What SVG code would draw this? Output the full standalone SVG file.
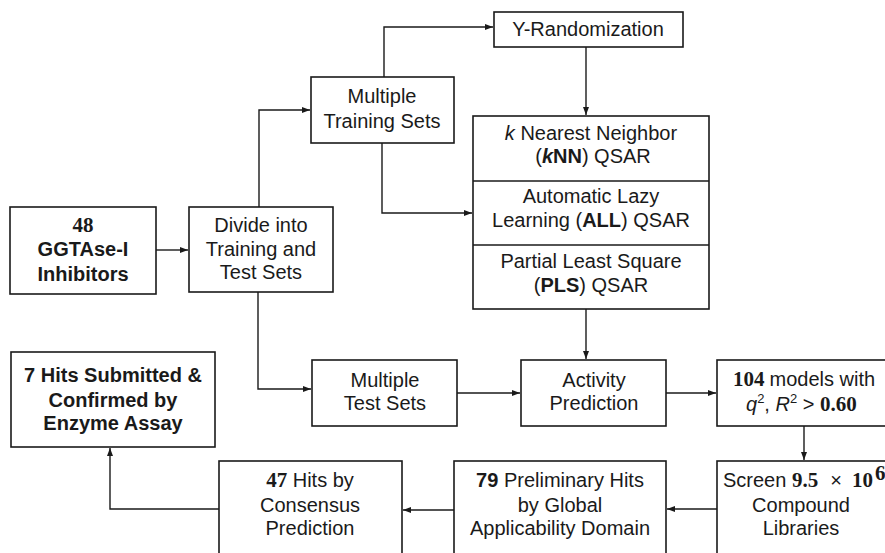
<svg xmlns="http://www.w3.org/2000/svg" width="885" height="553" viewBox="0 0 885 553">
<defs>
<marker id="arr" markerUnits="userSpaceOnUse" markerWidth="9" markerHeight="7" refX="8" refY="3" orient="auto">
<path d="M0,0 L8,3 L0,6 z" fill="#1a1a1a"/>
</marker>
<style>
.box{fill:#fff;stroke:#1a1a1a;stroke-width:1.6}
.t{font-family:"Liberation Sans",Arial,sans-serif;font-size:20px;fill:#1a1a1a;text-anchor:middle}
.st{text-anchor:start}
.b{font-weight:bold}
.s{font-family:"Liberation Serif","Times New Roman",serif;font-weight:bold;font-size:21px}
.i{font-style:italic}
.c{fill:none;stroke:#1a1a1a;stroke-width:1.4;marker-end:url(#arr)}
</style>
</defs>
<rect width="885" height="553" fill="#fff"/>
<g id="connectors">
<path class="c" d="M156,250 H188"/>
<path class="c" d="M259,207 V110 H310"/>
<path class="c" d="M384,77 V27 H493"/>
<path class="c" d="M586,47 V115"/>
<path class="c" d="M382,143 V213 H472"/>
<path class="c" d="M258,292 V389 H311"/>
<path class="c" d="M586,309 V359"/>
<path class="c" d="M457,393 H520"/>
<path class="c" d="M666,393 H716"/>
<path class="c" d="M804,426 V460"/>
<path class="c" d="M717,509 H667"/>
<path class="c" d="M454,510 H403"/>
<path class="c" d="M219,509 H110 V448"/>
</g>
<g id="n48">
<rect class="box" x="10" y="207" width="146" height="87"/>
<text class="t b" x="83" y="232"><tspan class="s">48</tspan></text>
<text class="t b" x="83" y="256">GGTAse-I</text>
<text class="t b" x="83" y="281">Inhibitors</text>
</g>
<g id="divide">
<rect class="box" x="189" y="207" width="144" height="85"/>
<text class="t" x="261" y="232">Divide into</text>
<text class="t" x="261" y="256">Training and</text>
<text class="t" x="261" y="279">Test Sets</text>
</g>
<g id="trainsets">
<rect class="box" x="311" y="77" width="143" height="66"/>
<text class="t" x="382" y="103">Multiple</text>
<text class="t" x="382" y="128">Training Sets</text>
</g>
<g id="yrand">
<rect class="box" x="494" y="12" width="189" height="35"/>
<text class="t" x="588" y="36">Y-Randomization</text>
</g>
<g id="models">
<rect class="box" x="473" y="116" width="236" height="193"/>
<line x1="473" y1="181" x2="709" y2="181" stroke="#1a1a1a" stroke-width="1.6"/>
<line x1="473" y1="245" x2="709" y2="245" stroke="#1a1a1a" stroke-width="1.6"/>
<text class="t" x="591" y="140"><tspan class="i">k</tspan> Nearest Neighbor</text>
<text class="t" x="593" y="163">(<tspan class="b i">k</tspan><tspan class="b">NN</tspan>) QSAR</text>
<text class="t" x="591" y="203">Automatic Lazy</text>
<text class="t" x="591" y="227">Learning (<tspan class="b">ALL</tspan>) QSAR</text>
<text class="t" x="591" y="268">Partial Least Square</text>
<text class="t" x="591" y="292">(<tspan class="b">PLS</tspan>) QSAR</text>
</g>
<g id="testsets">
<rect class="box" x="312" y="360" width="145" height="66"/>
<text class="t" x="385" y="387">Multiple</text>
<text class="t" x="385" y="410">Test Sets</text>
</g>
<g id="activity">
<rect class="box" x="521" y="360" width="145" height="66"/>
<text class="t" x="594" y="387">Activity</text>
<text class="t" x="594" y="410">Prediction</text>
</g>
<g id="m104">
<rect class="box" x="717" y="360" width="190" height="66"/>
<text class="t st" x="733" y="386"><tspan class="s">104</tspan><tspan dx="5">models with</tspan></text>
<text class="t st" x="746" y="411"><tspan class="i">q</tspan><tspan font-size="13" dy="-8">2</tspan><tspan dy="8">, </tspan><tspan class="i">R</tspan><tspan font-size="13" dy="-8">2</tspan><tspan dy="8"> &gt; </tspan><tspan class="s">0.60</tspan></text>
</g>
<g id="screen">
<rect class="box" x="717" y="461" width="190" height="110"/>
<text class="t st" x="723" y="487">Screen <tspan class="s">9.5</tspan><tspan dx="12">×</tspan><tspan class="s" dx="10">10</tspan><tspan class="s" font-size="14" dy="-7" dx="2">6</tspan></text>
<text class="t" x="801" y="512">Compound</text>
<text class="t" x="801" y="535">Libraries</text>
</g>
<g id="p79">
<rect class="box" x="454" y="461" width="212" height="110"/>
<text class="t" x="560" y="487"><tspan class="b">79</tspan> Preliminary Hits</text>
<text class="t" x="560" y="512">by Global</text>
<text class="t" x="560" y="535">Applicability Domain</text>
</g>
<g id="h47">
<rect class="box" x="219" y="461" width="183" height="110"/>
<text class="t" x="310" y="487"><tspan class="s">47</tspan> Hits by</text>
<text class="t" x="310" y="512">Consensus</text>
<text class="t" x="310" y="535">Prediction</text>
</g>
<g id="h7">
<rect class="box" x="11" y="352" width="204" height="95"/>
<text class="t b" x="113" y="382">7 Hits Submitted &amp;</text>
<text class="t b" x="113" y="407">Confirmed by</text>
<text class="t b" x="113" y="430">Enzyme Assay</text>
</g>
</svg>
